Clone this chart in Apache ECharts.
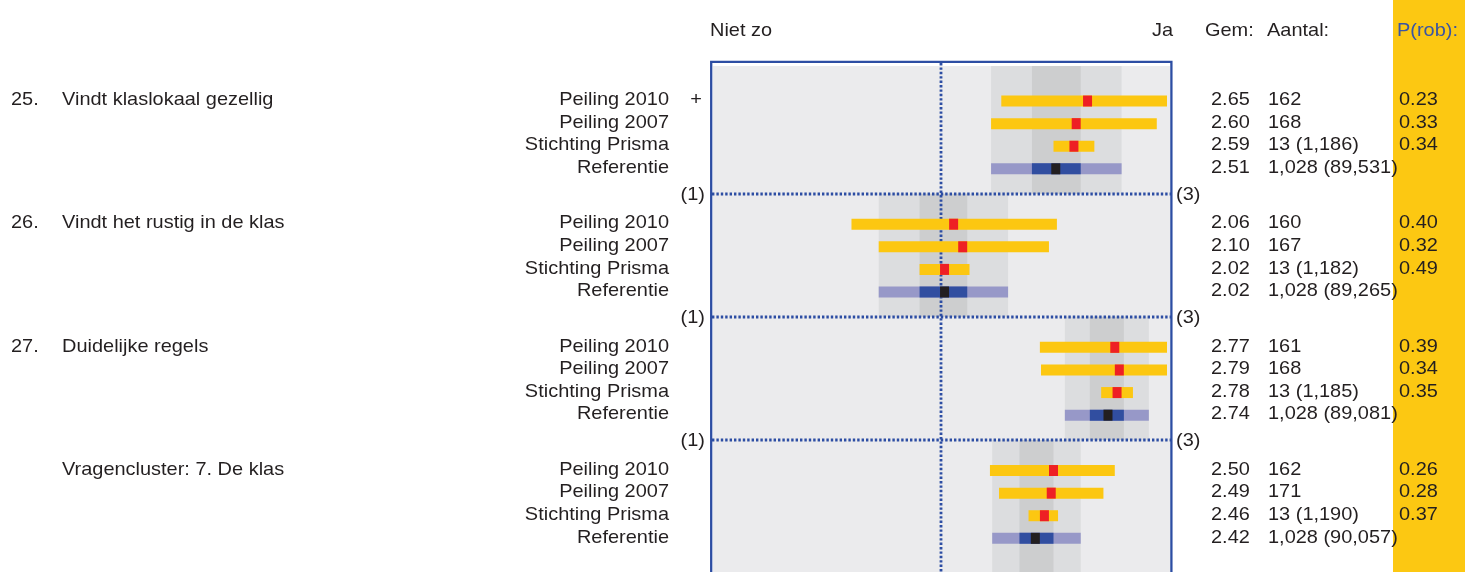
<!DOCTYPE html>
<html><head><meta charset="utf-8">
<script src="https://cdn.jsdelivr.net/npm/echarts@6/dist/echarts.min.js"></script>
<style>html,body{margin:0;padding:0;background:#fff}#c{width:1465px;height:572px}</style>
</head><body><div id="c"></div>
<script>
// ---------- data ----------
const groupNumbers = ['25.', '26.', '27.', ''];
const groupTitles = ['Vindt klaslokaal gezellig', 'Vindt het rustig in de klas', 'Duidelijke regels', 'Vragencluster: 7. De klas'];
const rowNames = ['Peiling 2010', 'Peiling 2007', 'Stichting Prisma', 'Referentie'];
const rowMarks = [['+', '', '', ''], ['', '', '', ''], ['', '', '', ''], ['', '', '', '']];
const means = [[2.65, 2.60, 2.59, 2.51], [2.06, 2.10, 2.02, 2.02], [2.77, 2.79, 2.78, 2.74], [2.50, 2.49, 2.46, 2.42]];
const lows = [[2.27, 2.225, 2.50, 2.225], [1.61, 1.73, 1.91, 1.73], [2.44, 2.445, 2.71, 2.55], [2.22, 2.26, 2.39, 2.23]];
const highs = [[3.00, 2.955, 2.68, 2.80], [2.515, 2.48, 2.13, 2.30], [3.00, 3.00, 2.85, 2.92], [2.77, 2.72, 2.52, 2.62]];
const refInnerLows = [2.405, 1.91, 2.66, 2.35];
const refInnerHighs = [2.62, 2.12, 2.81, 2.50];
const gemLabels = [['2.65', '2.60', '2.59', '2.51'], ['2.06', '2.10', '2.02', '2.02'], ['2.77', '2.79', '2.78', '2.74'], ['2.50', '2.49', '2.46', '2.42']];
const aantalLabels = [['162', '168', '13 (1,186)', '1,028 (89,531)'], ['160', '167', '13 (1,182)', '1,028 (89,265)'], ['161', '168', '13 (1,185)', '1,028 (89,081)'], ['162', '171', '13 (1,190)', '1,028 (90,057)']];
const probLabels = [['0.23', '0.33', '0.34', ''], ['0.40', '0.32', '0.49', ''], ['0.39', '0.34', '0.35', ''], ['0.26', '0.28', '0.37', '']];
const scaleEndLabels = ['(1)', '(3)'];
const axisEndLabels = ['Niet zo', 'Ja'];
const columnHeaders = ['Gem:', 'Aantal:', 'P(rob):'];
const scaleMin = 1, scaleMax = 3, scaleMid = 2;

// ---------- layout (row units) ----------
const ROW0 = 1.55, GROUP_STEP = 5.45, SEP_OFF = 4.1, Y_MAX = 22.39;
const rowY = (g, r) => ROW0 + g * GROUP_STEP + r;
const sepY = g => ROW0 + g * GROUP_STEP + SEP_OFF;

const FONT = '19px "Liberation Sans", Arial, sans-serif';
const SX = 1.05;
const TXT = '#231F20';
const BLUE = '#2C4DA3';
const YELLOW = '#FCC711';
const RED = '#EE2024';
const LPURPLE = '#9798C8';
const DBLUE = '#314EA0';
const BLACK = '#231F20';

const rowData = [];
for (let g = 0; g < 4; g++) for (let r = 0; r < 4; r++) rowData.push([g, r]);
const groupData = [0, 1, 2, 3].map(g => [g]);

const chart = echarts.init(document.getElementById('c'), null, { renderer: 'canvas' });

function text(x, y, t, align, fill) {
  return { type: 'text', x: x, y: y, scaleX: SX, style: { text: t, fill: fill || TXT, font: FONT, align: align || 'left', verticalAlign: 'middle' } };
}

const option = {
  animation: false,
  backgroundColor: '#fff',
  grid: { left: 713, right: 298, top: 66, bottom: 0, containLabel: false },
  xAxis: { type: 'value', min: scaleMin, max: scaleMax, show: false },
  yAxis: { type: 'value', min: 0, max: Y_MAX, inverse: true, show: false },
  graphic: [
    { type: 'rect', z: -10, shape: { x: 1393, y: 0, width: 72, height: 572 }, style: { fill: '#FCC812' } },
    { type: 'rect', z: -9, shape: { x: 713, y: 66, width: 457, height: 520 }, style: { fill: '#EBEBED' } },
    { type: 'rect', z: 50, shape: { x: 711.2, y: 61.9, width: 460.2, height: 600 }, style: { fill: 'none', stroke: BLUE, lineWidth: 2.3 } },
    text(710, 31, axisEndLabels[0], 'left'),
    text(1173, 31, axisEndLabels[1], 'right'),
    text(1205, 31, columnHeaders[0], 'left'),
    text(1267, 31, columnHeaders[1], 'left'),
    text(1397, 31, columnHeaders[2], 'left', '#3A55A4')
  ],
  series: [
    { // reference bands
      type: 'custom', clip: false, z: 1, data: groupData,
      renderItem: function (params, api) {
        const g = api.value(0);
        const top = api.coord([scaleMin, g === 0 ? 0 : sepY(g - 1)])[1];
        const bot = api.coord([scaleMin, g === 3 ? Y_MAX : sepY(g)])[1];
        const l1 = api.coord([lows[g][3], 0])[0], h1 = api.coord([highs[g][3], 0])[0];
        const l2 = api.coord([refInnerLows[g], 0])[0], h2 = api.coord([refInnerHighs[g], 0])[0];
        return { type: 'group', children: [
          { type: 'rect', shape: { x: l1, y: top, width: h1 - l1, height: bot - top }, style: { fill: '#DCDDDF' } },
          { type: 'rect', shape: { x: l2, y: top, width: h2 - l2, height: bot - top }, style: { fill: '#CDCECF' } }
        ] };
      }
    },
    { // dotted lines + group labels
      type: 'custom', clip: false, z: 3, data: groupData,
      renderItem: function (params, api) {
        const g = api.value(0);
        const children = [];
        if (g < 3) {
          const y = Math.round(api.coord([scaleMin, sepY(g)])[1]);
          children.push({ type: 'line', shape: { x1: 712, y1: y, x2: 1171, y2: y }, style: { stroke: BLUE, lineWidth: 2.8, lineDash: [2.4, 2] } });
          children.push(text(705, y + 1, scaleEndLabels[0], 'right'));
          children.push(text(1176, y + 1, scaleEndLabels[1], 'left'));
        }
        if (g === 0) {
          const x = Math.round(api.coord([scaleMid, 0])[0]) + 1;
          children.push({ type: 'line', shape: { x1: x, y1: 63, x2: x, y2: 572 }, style: { stroke: BLUE, lineWidth: 2.8, lineDash: [2.4, 2] } });
        }
        const y0 = api.coord([scaleMin, rowY(g, 0)])[1] - 1;
        if (groupNumbers[g]) children.push(text(11, y0, groupNumbers[g], 'left'));
        children.push(text(62, y0, groupTitles[g], 'left'));
        return { type: 'group', children: children };
      }
    },
    { // bars
      type: 'custom', clip: false, z: 4, data: rowData,
      renderItem: function (params, api) {
        const g = api.value(0), r = api.value(1);
        const yc = api.coord([scaleMin, rowY(g, r)])[1];
        const H = 11, W = 9;
        const xl = api.coord([lows[g][r], 0])[0], xh = api.coord([highs[g][r], 0])[0];
        const xm = api.coord([means[g][r], 0])[0];
        const children = [];
        if (r < 3) {
          children.push({ type: 'rect', shape: { x: xl, y: yc - H / 2, width: xh - xl, height: H }, style: { fill: YELLOW } });
          children.push({ type: 'rect', shape: { x: xm - W / 2, y: yc - H / 2, width: W, height: H }, style: { fill: RED } });
        } else {
          const il = api.coord([refInnerLows[g], 0])[0], ih = api.coord([refInnerHighs[g], 0])[0];
          children.push({ type: 'rect', shape: { x: xl, y: yc - H / 2, width: xh - xl, height: H }, style: { fill: LPURPLE } });
          children.push({ type: 'rect', shape: { x: il, y: yc - H / 2, width: ih - il, height: H }, style: { fill: DBLUE } });
          children.push({ type: 'rect', shape: { x: xm - W / 2, y: yc - H / 2, width: W, height: H }, style: { fill: BLACK } });
        }
        return { type: 'group', children: children };
      }
    },
    { // row texts
      type: 'custom', clip: false, z: 5, data: rowData,
      renderItem: function (params, api) {
        const g = api.value(0), r = api.value(1);
        const y = api.coord([scaleMin, rowY(g, r)])[1] - 1;
        const children = [
          text(669, y, rowNames[r], 'right'),
          text(1211, y, gemLabels[g][r], 'left'),
          text(1268, y, aantalLabels[g][r], 'left'),
          text(1399, y, probLabels[g][r], 'left')
        ];
        if (rowMarks[g][r]) children.push(text(696, y, rowMarks[g][r], 'center'));
        return { type: 'group', children: children };
      }
    }
  ]
};
chart.setOption(option);
</script>
</body></html>
